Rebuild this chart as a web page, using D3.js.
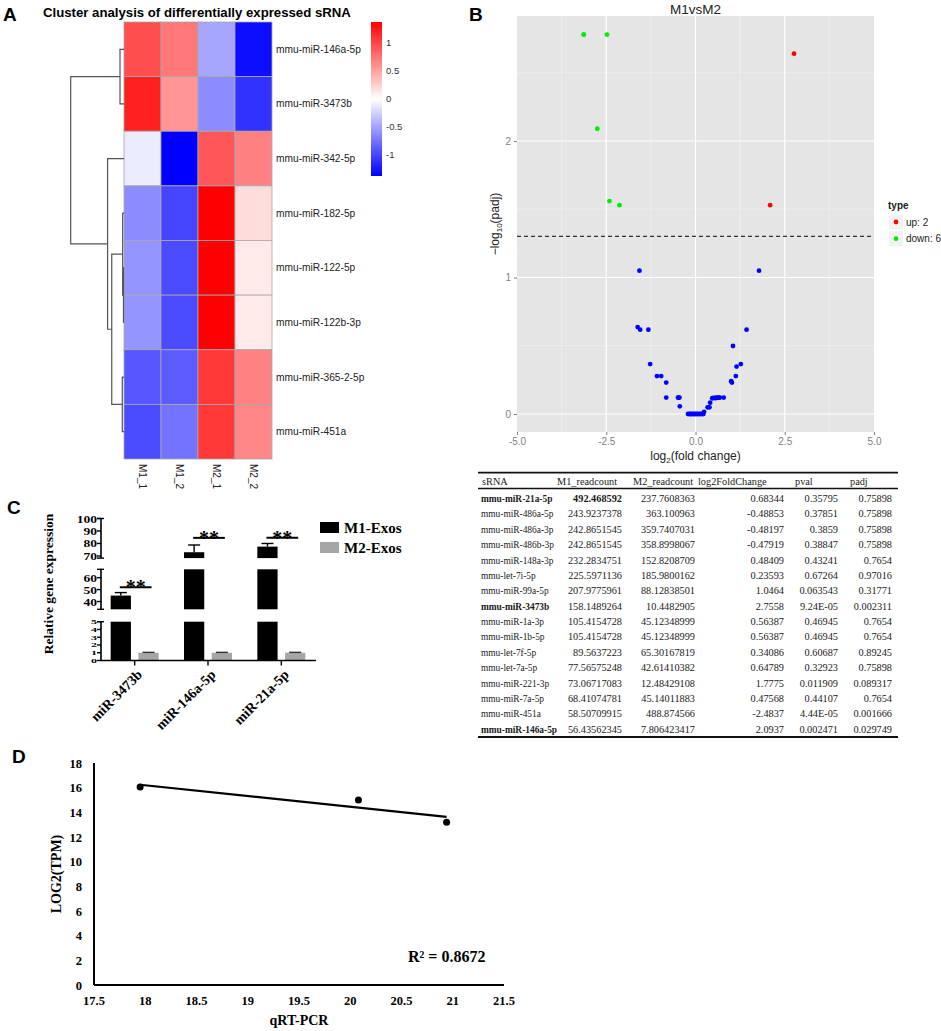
<!DOCTYPE html>
<html>
<head>
<meta charset="utf-8">
<script src="https://cdn.jsdelivr.net/npm/d3@7"></script>
<style>
body { margin: 0; background: #fff; }
svg { display: block; }
</style>
</head>
<body>
<svg id="fig" width="941" height="1031"></svg>
<script>
// ---------- data ----------
// A: heatmap (z-scores)
var heatRows = ["mmu-miR-146a-5p", "mmu-miR-3473b", "mmu-miR-342-5p", "mmu-miR-182-5p",
                "mmu-miR-122-5p", "mmu-miR-122b-3p", "mmu-miR-365-2-5p", "mmu-miR-451a"];
var heatCols = ["M1_1", "M1_2", "M2_1", "M2_2"];
var heatValues = [
  [0.95, 0.73, -0.48, -1.30],
  [1.20, 0.57, -0.62, -1.10],
  [-0.10, -1.37, 0.90, 0.68],
  [-0.62, -1.00, 1.37, 0.19],
  [-0.57, -0.97, 1.37, 0.12],
  [-0.57, -0.97, 1.37, 0.12],
  [-0.91, -0.88, 1.07, 0.67],
  [-0.97, -0.75, 1.07, 0.65]
];
var colorTicks = [1, 0.5, 0, -0.5, -1];
// row dendrogram: leaves are row indexes, h = merge height (root = 1)
var rowTree = {h: 1, c: [
  {h: 0.075, c: [0, 1]},
  {h: 0.308, c: [2, {h: 0.23, c: [
    {h: 0.025, c: [3, {h: 0.01, c: [4, 5]}]},
    {h: 0.032, c: [6, 7]}
  ]}]}
]};

// B: volcano points [log2FC, -log10(padj)]
var upPoints = [[2.76, 2.64], [2.09, 1.53]];
var downPoints = [[-3.13, 2.78], [-3.13, 2.78], [-2.48, 2.78], [-2.75, 2.09], [-2.41, 1.56], [-2.13, 1.53]];
var nsPoints = [
  [-1.57, 1.05], [1.78, 1.05], [-1.62, 0.637], [-1.55, 0.618], [-1.32, 0.618], [1.43, 0.618],
  [1.05, 0.498], [-1.27, 0.366], [1.27, 0.366], [1.15, 0.347], [-1.08, 0.278], [-0.96, 0.278],
  [1.13, 0.278], [-0.82, 0.23], [1.00, 0.24], [1.02, 0.23], [-0.82, 0.12], [-0.49, 0.12],
  [-0.48, 0.12], [-0.45, 0.12], [-0.44, 0.056],
  [-0.21, 0], [-0.17, 0], [-0.13, 0], [-0.10, 0], [-0.06, 0], [-0.02, 0], [0.01, 0],
  [0.05, 0], [0.09, 0], [0.13, 0], [0.17, 0], [0.22, 0], [0.24, 0.016],
  [0.34, 0.049], [0.39, 0.049], [0.41, 0.083], [0.47, 0.116], [0.484, 0.116], [0.55, 0.12],
  [0.564, 0.116], [0.62, 0.12], [0.648, 0.12], [0.683, 0.12], [0.79, 0.12]
];
var padjCut = 0.05;
var volcanoXTicks = [-5, -2.5, 0, 2.5, 5];
var volcanoYTicks = [0, 1, 2];

// B: table
var tableHeader = ["sRNA", "M1_readcount", "M2_readcount", "log2FoldChange", "pval", "padj"];
var tableNames = ["mmu-miR-21a-5p", "mmu-miR-486a-5p", "mmu-miR-486a-3p", "mmu-miR-486b-3p",
  "mmu-miR-148a-3p", "mmu-let-7i-5p", "mmu-miR-99a-5p", "mmu-miR-3473b", "mmu-miR-1a-3p",
  "mmu-miR-1b-5p", "mmu-let-7f-5p", "mmu-let-7a-5p", "mmu-miR-221-3p", "mmu-miR-7a-5p",
  "mmu-miR-451a", "mmu-miR-146a-5p"];
var tableM1 = ["492.468592", "243.9237378", "242.8651545", "242.8651545", "232.2834751", "225.5971136",
  "207.9775961", "158.1489264", "105.4154728", "105.4154728", "89.5637223", "77.56575248",
  "73.06717083", "68.41074781", "58.50709915", "56.43562345"];
var tableM2 = ["237.7608363", "363.100963", "359.7407031", "358.8998067", "152.8208709", "185.9800162",
  "88.12838501", "10.4482905", "45.12348999", "45.12348999", "65.30167819", "42.61410382",
  "12.48429108", "45.14011883", "488.874566", "7.806423417"];
var tableLfc = ["0.68344", "-0.48853", "-0.48197", "-0.47919", "0.48409", "0.23593", "1.0464", "2.7558",
  "0.56387", "0.56387", "0.34086", "0.64789", "1.7775", "0.47568", "-2.4837", "2.0937"];
var tablePval = ["0.35795", "0.37851", "0.3859", "0.38847", "0.43241", "0.67264", "0.063543", "9.24E-05",
  "0.46945", "0.46945", "0.60687", "0.32923", "0.011909", "0.44107", "4.44E-05", "0.002471"];
var tablePadj = ["0.75898", "0.75898", "0.75898", "0.75898", "0.7654", "0.97016", "0.31771", "0.002311",
  "0.7654", "0.7654", "0.89245", "0.75898", "0.089317", "0.7654", "0.001666", "0.029749"];
var boldRows = [0, 7, 15];

// C: qRT-PCR bars
var barGroups = ["miR-3473b", "miR-146a-5p", "miR-21a-5p"];
var m1Expr = [45, 73, 77.5];
var m1Err = [2.5, 5.8, 2.5];
var m2Expr = [1, 1, 1];
var m2Err = [0.05, 0.05, 0.05];
var sigLevel = [52, 84.5, 84.5];
var barTicksLow = [0, 1, 2, 3, 4, 5];
var barTicksMid = [40, 50, 60];
var barTicksHigh = [70, 80, 90, 100];

// D: correlation
var pcrX = [17.95, 20.08, 20.94];
var tpmY = [16.06, 15.0, 13.2];
var corrXTicks = [17.5, 18, 18.5, 19, 19.5, 20, 20.5, 21, 21.5];
var corrYTicks = [0, 2, 4, 6, 8, 10, 12, 14, 16, 18];

// ---------- drawing ----------
var svg = d3.select("#fig");
var sans = "'Liberation Sans', Arial, sans-serif";
var serif = "'Liberation Serif', 'Times New Roman', serif";

function panelLabel(t, x, y) {
  svg.append("text").attr("x", x).attr("y", y).text(t)
    .style("font-family", sans).style("font-weight", "bold").style("font-size", "19px");
}
panelLabel("A", 3, 21);
panelLabel("B", 469, 21);
panelLabel("C", 7, 514);
panelLabel("D", 12, 763);

// ===== A =====
var gA = svg.append("g");
var hx = d3.scaleBand().domain(heatCols).range([124, 272]);
var hy = d3.scaleBand().domain(heatRows).range([22, 459]);
var heatColor = d3.scaleLinear().domain([-1.37, 0, 1.37]).range(["#0000ff", "#ffffff", "#ff0000"]);

gA.append("text").attr("x", 43).attr("y", 17)
  .text("Cluster analysis of differentially expressed sRNA")
  .style("font-family", sans).style("font-weight", "bold").style("font-size", "13.2px");

var cells = [];
heatValues.forEach(function(row, i) {
  row.forEach(function(v, j) { cells.push({r: heatRows[i], c: heatCols[j], v: v}); });
});
gA.selectAll("rect.cell").data(cells).enter().append("rect")
  .attr("class", "cell")
  .attr("x", function(d) { return hx(d.c); })
  .attr("y", function(d) { return hy(d.r); })
  .attr("width", hx.bandwidth())
  .attr("height", hy.bandwidth())
  .attr("fill", function(d) { return heatColor(d.v); })
  .attr("stroke", "#a8a8a8").attr("stroke-width", 0.8);

gA.selectAll("text.row").data(heatRows).enter().append("text")
  .attr("x", 276)
  .attr("y", function(d) { return hy(d) + hy.bandwidth() / 2 + 3.5; })
  .text(function(d) { return d; })
  .style("font-family", sans).style("font-size", "10.2px").attr("fill", "#222");

gA.selectAll("text.col").data(heatCols).enter().append("text")
  .attr("transform", function(d) { return "translate(" + (hx(d) + hx.bandwidth() / 2 - 3.5) + ",464) rotate(90)"; })
  .text(function(d) { return d; })
  .style("font-family", sans).style("font-size", "10px").attr("fill", "#222");

// dendrogram
var dx = d3.scaleLinear().domain([0, 1]).range([124, 70.7]);
function drawTree(node) {
  if (typeof node === "number") return {x: 124, y: hy(heatRows[node]) + hy.bandwidth() / 2};
  var kids = node.c.map(drawTree);
  var x = dx(node.h);
  var p = "M" + kids[0].x + "," + kids[0].y + "H" + x + "V" + kids[1].y + "H" + kids[1].x;
  gA.append("path").attr("d", p).attr("fill", "none").attr("stroke", "#555").attr("stroke-width", 1.2);
  return {x: x, y: (kids[0].y + kids[1].y) / 2};
}
drawTree(rowTree);

// colour key
var cy = d3.scaleLinear().domain([-1.37, 1.37]).range([176, 22]);
var grad = svg.append("defs").append("linearGradient").attr("id", "hgrad")
  .attr("x1", 0).attr("y1", 1).attr("x2", 0).attr("y2", 0);
grad.selectAll("stop").data([-1.37, 0, 1.37]).enter().append("stop")
  .attr("offset", function(d, i) { return i / 2; })
  .attr("stop-color", function(d) { return heatColor(d); });
gA.append("rect").attr("x", 371).attr("y", cy(1.37)).attr("width", 11)
  .attr("height", cy(-1.37) - cy(1.37)).attr("fill", "url(#hgrad)");
gA.selectAll("text.ck").data(colorTicks).enter().append("text")
  .attr("x", 386).attr("y", function(d) { return cy(d) + 3; })
  .text(function(d) { return d; })
  .style("font-family", sans).style("font-size", "9.5px").attr("fill", "#333");

// ===== B: volcano =====
var gB = svg.append("g");
var vx = d3.scaleLinear().domain([-5, 5]).range([517, 874]);
var vy = d3.scaleLinear().domain([-0.132, 2.916]).range([432, 16]);

gB.append("rect").attr("x", vx(-5)).attr("y", vy(2.916)).attr("width", vx(5) - vx(-5))
  .attr("height", vy(-0.132) - vy(2.916)).attr("fill", "#e5e5e5");
gB.selectAll("line.mx").data([-3.75, -1.25, 1.25, 3.75]).enter().append("line")
  .attr("x1", vx).attr("x2", vx).attr("y1", vy(2.916)).attr("y2", vy(-0.132))
  .attr("stroke", "#f2f2f2").attr("stroke-width", 0.6);
gB.selectAll("line.my").data([0.5, 1.5, 2.5]).enter().append("line")
  .attr("y1", vy).attr("y2", vy).attr("x1", vx(-5)).attr("x2", vx(5))
  .attr("stroke", "#f2f2f2").attr("stroke-width", 0.6);
gB.selectAll("line.gx").data([-2.5, 0, 2.5]).enter().append("line")
  .attr("x1", vx).attr("x2", vx).attr("y1", vy(2.916)).attr("y2", vy(-0.132))
  .attr("stroke", "#fff").attr("stroke-width", 1.2);
gB.selectAll("line.gy").data(volcanoYTicks).enter().append("line")
  .attr("y1", vy).attr("y2", vy).attr("x1", vx(-5)).attr("x2", vx(5))
  .attr("stroke", "#fff").attr("stroke-width", 1.2);

var axB = gB.append("g").attr("transform", "translate(0,432)")
  .call(d3.axisBottom(vx).tickValues(volcanoXTicks).tickSize(3).tickPadding(3)
    .tickFormat(function(d) { return d.toFixed(1); }));
var ayB = gB.append("g").attr("transform", "translate(517,0)")
  .call(d3.axisLeft(vy).tickValues(volcanoYTicks).tickSize(3).tickPadding(3).tickFormat(d3.format("d")));
[axB, ayB].forEach(function(a) {
  a.select(".domain").remove();
  a.selectAll("line").attr("stroke", "#7f7f7f");
  a.selectAll("text").attr("fill", "#7f7f7f").style("font-family", sans).style("font-size", "10px");
});

gB.append("line").attr("x1", vx(-5)).attr("x2", vx(5))
  .attr("y1", vy(-Math.log10(padjCut))).attr("y2", vy(-Math.log10(padjCut)))
  .attr("stroke", "#333").attr("stroke-width", 1.1).attr("stroke-dasharray", "4,3");

function dots(pts, col) {
  gB.append("g").selectAll("circle").data(pts).enter().append("circle")
    .attr("cx", function(d) { return vx(d[0]); })
    .attr("cy", function(d) { return vy(d[1]); })
    .attr("r", 2.4).attr("fill", col);
}
dots(nsPoints, "#0000ff");
dots(downPoints, "#00ee00");
dots(upPoints, "#ff0000");

gB.append("text").attr("x", 695.5).attr("y", 14).attr("text-anchor", "middle").text("M1vsM2")
  .style("font-family", sans).style("font-size", "13.5px").attr("fill", "#222");

var xl = gB.append("text").attr("x", 695.5).attr("y", 460).attr("text-anchor", "middle")
  .style("font-family", sans).style("font-size", "12px").attr("fill", "#222");
xl.append("tspan").text("log");
xl.append("tspan").attr("dy", 3).style("font-size", "8px").text("2");
xl.append("tspan").attr("dy", -3).text("(fold change)");

var yl = gB.append("text").attr("transform", "translate(499,224) rotate(-90)").attr("text-anchor", "middle")
  .style("font-family", sans).style("font-size", "12px").attr("fill", "#222");
yl.append("tspan").text("\u2212log");
yl.append("tspan").attr("dy", 3).style("font-size", "8px").text("10");
yl.append("tspan").attr("dy", -3).text("(padj)");

// legend
gB.append("text").attr("x", 888).attr("y", 209).text("type")
  .style("font-family", sans).style("font-weight", "bold").style("font-size", "10px").attr("fill", "#222");
var legB = [{t: "up: " + upPoints.length, c: "#ff0000"}, {t: "down: " + downPoints.length, c: "#00ee00"}];
legB.forEach(function(d, i) {
  var y = 222 + i * 16.7;
  gB.append("rect").attr("x", 889).attr("y", y - 7.5).attr("width", 14).attr("height", 15).attr("fill", "#f2f2f2");
  gB.append("circle").attr("cx", 896).attr("cy", y).attr("r", 2.4).attr("fill", d.c);
  gB.append("text").attr("x", 906).attr("y", y + 3.5).text(d.t)
    .style("font-family", sans).style("font-size", "10px").attr("fill", "#222");
});

// ===== table =====
var gT = svg.append("g").style("font-family", serif).style("font-size", "10.3px").attr("fill", "#1a1a1a");
var colHeadX = [482, 557, 633, 698, 795, 850];
var colRightX = [null, 622, 695, 784, 838, 892];
var rowY = d3.scaleLinear().domain([0, 15]).range([502, 732.7]);
gT.append("line").attr("x1", 478).attr("x2", 898).attr("y1", 472.7).attr("y2", 472.7).attr("stroke", "#111").attr("stroke-width", 1.8);
gT.append("line").attr("x1", 478).attr("x2", 898).attr("y1", 488.5).attr("y2", 488.5).attr("stroke", "#111").attr("stroke-width", 1.4);
gT.append("line").attr("x1", 478).attr("x2", 898).attr("y1", 737).attr("y2", 737).attr("stroke", "#111").attr("stroke-width", 1.8);
tableHeader.forEach(function(h, j) {
  gT.append("text").attr("x", colHeadX[j]).attr("y", 485).text(h);
});
var cols = [tableM1, tableM2, tableLfc, tablePval, tablePadj];
tableNames.forEach(function(n, i) {
  var bold = boldRows.indexOf(i) >= 0;
  gT.append("text").attr("x", 481).attr("y", rowY(i)).text(n)
    .style("font-size", "9.4px").style("font-weight", bold ? "bold" : "normal");
  cols.forEach(function(col, j) {
    gT.append("text").attr("x", colRightX[j + 1]).attr("y", rowY(i)).attr("text-anchor", "end")
      .text(col[i]).style("font-weight", (i === 0 && j === 0) ? "bold" : "normal");
  });
});

// ===== C: bars with broken axis =====
var gC = svg.append("g").style("font-family", serif).style("font-weight", "bold");
var segs = [
  {s: d3.scaleLinear().domain([0, 5]).range([660.5, 621.7]), ticks: barTicksLow, squash: true},
  {s: d3.scaleLinear().domain([33.5, 67]).range([609.3, 569.3]), ticks: barTicksMid},
  {s: d3.scaleLinear().domain([68.3, 100]).range([558.1, 518.5]), ticks: barTicksHigh}
];
function segOf(v) {
  for (var k = segs.length - 1; k >= 0; k--) if (v >= segs[k].s.domain()[0]) return segs[k];
  return segs[0];
}
var bx = d3.scaleBand().domain(barGroups).range([98, 318]);
var sub = d3.scaleBand().domain(["M1", "M2"]).range([-24, 24]).paddingInner(0.27);
var axisX = 101;

segs.forEach(function(sg) {
  var d0 = sg.s.domain();
  gC.append("line").attr("x1", axisX).attr("x2", axisX).attr("y1", sg.s(d0[0])).attr("y2", sg.s(d0[1]))
    .attr("stroke", "#000").attr("stroke-width", 1.6);
  gC.selectAll(null).data(sg.ticks).enter().append("line")
    .attr("x1", axisX - 4).attr("x2", axisX).attr("y1", sg.s).attr("y2", sg.s)
    .attr("stroke", "#000").attr("stroke-width", 1.4);
  // break caps
  d0.forEach(function(v) {
    if (v === 0) return;
    gC.append("line").attr("x1", axisX - 4).attr("x2", axisX + 3).attr("y1", sg.s(v)).attr("y2", sg.s(v))
      .attr("stroke", "#000").attr("stroke-width", 1.4);
  });
  // labels are packed tightly, as in the source figure (low segment squeezed)
  gC.selectAll(null).data(sg.ticks).enter().append("text")
    .attr("transform", function(d) {
      return "translate(" + (axisX - 4) + "," + (sg.s(d) + (sg.squash ? 2.4 : 4)) + ")" +
        (sg.squash ? " scale(1,0.55)" : " scale(1.2,1)");
    })
    .attr("text-anchor", "end").text(function(d) { return d; })
    .style("font-size", sg.squash ? "12px" : "11.3px");
});

function drawBars(vals, errs, key, fill) {
  vals.forEach(function(v, i) {
    var x = bx(barGroups[i]) + bx.bandwidth() / 2 + sub(key);
    segs.forEach(function(sg) {
      var d0 = sg.s.domain();
      if (v <= d0[0]) return;
      var top = Math.min(v, d0[1]);
      gC.append("rect").attr("x", x).attr("width", sub.bandwidth())
        .attr("y", sg.s(top)).attr("height", sg.s(d0[0]) - sg.s(top)).attr("fill", fill);
    });
    var sg = segOf(v);
    var cx = x + sub.bandwidth() / 2;
    gC.append("line").attr("x1", cx).attr("x2", cx).attr("y1", sg.s(v)).attr("y2", sg.s(v + errs[i]))
      .attr("stroke", key === "M1" ? "#000" : "#333").attr("stroke-width", 1.4);
    gC.append("line").attr("x1", cx - 6).attr("x2", cx + 6).attr("y1", sg.s(v + errs[i])).attr("y2", sg.s(v + errs[i]))
      .attr("stroke", key === "M1" ? "#000" : "#333").attr("stroke-width", 1.4);
  });
}
drawBars(m1Expr, m1Err, "M1", "#000");
drawBars(m2Expr, m2Err, "M2", "#a6a6a6");

gC.append("line").attr("x1", axisX).attr("x2", 316).attr("y1", 660.5).attr("y2", 660.5)
  .attr("stroke", "#000").attr("stroke-width", 1.6);
barGroups.forEach(function(g, i) {
  var c = bx(g) + bx.bandwidth() / 2;
  gC.append("line").attr("x1", c).attr("x2", c).attr("y1", 660.5).attr("y2", 665.5)
    .attr("stroke", "#000").attr("stroke-width", 1.4);
  gC.append("text").attr("transform", "translate(" + (c + 5) + ",672) rotate(-45)")
    .attr("text-anchor", "end").attr("dy", "0.35em").text(g).style("font-size", "14px");
  // significance
  var x1 = c + sub("M1") + sub.bandwidth() / 2, x2 = c + sub("M2") + sub.bandwidth() / 2;
  var sy = segOf(sigLevel[i]).s(sigLevel[i]);
  gC.append("line").attr("x1", x1 - 1).attr("x2", x2 + 3).attr("y1", sy).attr("y2", sy)
    .attr("stroke", "#000").attr("stroke-width", 2);
  gC.append("text").attr("x", (x1 + x2) / 2 + 1).attr("y", sy + 7).attr("text-anchor", "middle")
    .text("**").style("font-size", "20px");
});

gC.append("text").attr("transform", "translate(53,584) rotate(-90)").attr("text-anchor", "middle")
  .text("Relative gene expression").style("font-size", "13.5px");

[{t: "M1-Exos", c: "#000"}, {t: "M2-Exos", c: "#a6a6a6"}].forEach(function(d, i) {
  gC.append("rect").attr("x", 320).attr("y", 522 + i * 20).attr("width", 19).attr("height", 11).attr("fill", d.c);
  gC.append("text").attr("x", 344).attr("y", 533 + i * 20).text(d.t).style("font-size", "15px");
});

// ===== D: correlation =====
var gD = svg.append("g").style("font-family", serif).style("font-weight", "bold");
var rx = d3.scaleLinear().domain([17.5, 21.5]).range([94, 504]);
var ry = d3.scaleLinear().domain([0, 18]).range([985, 763]);

gD.append("line").attr("x1", rx(17.5)).attr("x2", rx(17.5)).attr("y1", ry(0)).attr("y2", ry(18))
  .attr("stroke", "#000").attr("stroke-width", 2);
gD.append("line").attr("x1", rx(17.5)).attr("x2", rx(21.5)).attr("y1", ry(0)).attr("y2", ry(0))
  .attr("stroke", "#000").attr("stroke-width", 2);
gD.selectAll("text.yt").data(corrYTicks).enter().append("text")
  .attr("x", 82).attr("y", function(d) { return ry(d) + 4.5; }).attr("text-anchor", "end")
  .text(function(d) { return d; }).style("font-size", "12.5px");
gD.selectAll("text.xt").data(corrXTicks).enter().append("text")
  .attr("x", rx).attr("y", 1005).attr("text-anchor", "middle")
  .text(function(d) { return d; }).style("font-size", "12.5px");

// least-squares trend line
var mx = d3.mean(pcrX), my = d3.mean(tpmY);
var sxy = d3.sum(pcrX, function(x, i) { return (x - mx) * (tpmY[i] - my); });
var sxx = d3.sum(pcrX, function(x) { return (x - mx) * (x - mx); });
var slope = sxy / sxx, icpt = my - slope * mx;
var xr = d3.extent(pcrX);
gD.append("line").attr("x1", rx(xr[0])).attr("x2", rx(xr[1]))
  .attr("y1", ry(icpt + slope * xr[0])).attr("y2", ry(icpt + slope * xr[1]))
  .attr("stroke", "#000").attr("stroke-width", 2.2);
gD.selectAll("circle").data(pcrX).enter().append("circle")
  .attr("cx", function(d) { return rx(d); })
  .attr("cy", function(d, i) { return ry(tpmY[i]); })
  .attr("r", 3.5).attr("fill", "#000");

gD.append("text").attr("x", 408).attr("y", 962).text("R\u00b2 = 0.8672").style("font-size", "16px");
gD.append("text").attr("x", 299).attr("y", 1025).attr("text-anchor", "middle").text("qRT-PCR").style("font-size", "14px");
gD.append("text").attr("transform", "translate(61,874) rotate(-90)").attr("text-anchor", "middle")
  .text("LOG2(TPM)").style("font-size", "14px");
</script>
</body>
</html>
